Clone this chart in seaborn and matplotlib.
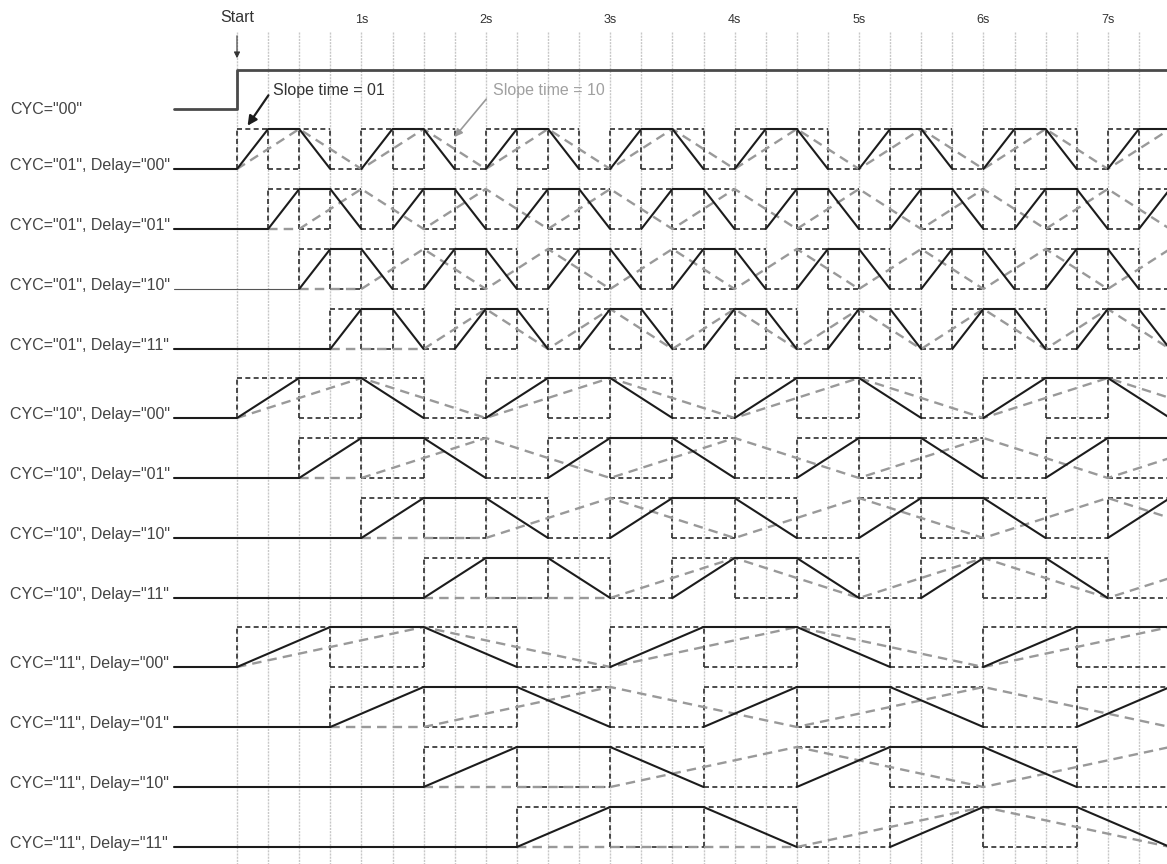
import numpy as np
import pandas as pd
import matplotlib.pyplot as plt
import seaborn as sns

# chart values
time_labels = ["Start", "1s", "2s", "3s", "4s", "5s", "6s", "7s"]
time_secs = [0, 1, 2, 3, 4, 5, 6, 7]
cyc_codes = ["01", "10", "11"]
delay_codes = ["00", "01", "10", "11"]
slope_codes = ["01", "10"]          # solid = "01", grey dashed = "10"
t_end = 7.6

sns.set_style("white")
plt.rcParams["font.family"] = ["Liberation Sans", "DejaVu Sans"]

fig = plt.figure(figsize=(11.67, 8.64), dpi=100)
ax = fig.add_axes([0, 0, 1, 1])

px = 124.4  # pixels per second
x0 = 237


def sx(p):
    return (p - x0) / px


amp = 40
t_left = sx(174)


def row_base(g, r):
    return 169 + 60 * (4 * g + r) + 9 * g


solid, dash_k, dash_g, thin = [], [], [], []


def add(lst, uid, pts):
    for t, y in pts:
        lst.append({"t": t, "y": y, "seg": uid})


for g, cyc in enumerate(cyc_codes):
    u = 0.25 * int(cyc, 2)
    for r, dl in enumerate(delay_codes):
        lo = row_base(g, r)
        hi = lo - amp
        d = int(dl, 2)
        t0 = d * u
        name = f"{cyc}{dl}"
        thin_row = (cyc, dl) == ("01", "10")
        # solid, slope time 01
        k = 0
        p = t0
        while p < t_end:
            pts = [(p, lo), (p + u, hi), (p + 2 * u, hi), (p + 3 * u, lo)]
            if k == 0:
                if thin_row:
                    add(thin, f"{name}lead", [(t_left, lo), (t0, lo)])
                else:
                    pts = [(t_left, lo)] + pts
            add(solid, f"{name}s{k}", pts)
            # dashed black boxes
            for i in range(4):
                add(dash_k, f"{name}v{k}{i}", [(p + i * u, lo), (p + i * u, hi)])
            add(dash_k, f"{name}t{k}", [(p, hi), (p + 3 * u, hi)])
            add(dash_k, f"{name}b{k}a", [(p + u, lo), (p + 2 * u, lo)])
            add(dash_k, f"{name}b{k}b", [(p + 3 * u, lo), (p + 4 * u, lo)])
            p += 4 * u
            k += 1
        # grey dashed, slope time 10
        s = int(slope_codes[1], 2)
        tg = d * s * u
        pts = [(t0, lo), (tg, lo)]
        j = 1
        while tg + 2 * u * (j - 1) < t_end:
            pts.append((tg + 2 * u * j, hi if j % 2 else lo))
            j += 1
        add(dash_g, f"{name}g", pts)

        label = f'CYC="{cyc}", Delay="{dl}"'
        ax.text(sx(10), lo + 1, label, fontsize=11.5, color="#444", va="baseline", ha="left")

# grid
grid_t = np.arange(0, 7.3, 0.25)
ax.vlines(grid_t, 32, 864, color="#c8c8c8", lw=1.0, linestyle=(0, (1.5, 0.8)), zorder=0)

# CYC="00" row
cyc0 = pd.DataFrame({"t": [t_left, 0, 0, t_end], "y": [109, 109, 70, 70]})
sns.lineplot(data=cyc0, x="t", y="y", sort=False, estimator=None, color="#4a4a4a",
             lw=2.0, legend=False, ax=ax)
ax.text(sx(10), 109, 'CYC="00"', fontsize=11.5, color="#444", va="center", ha="left")

sns.lineplot(data=pd.DataFrame(dash_k), x="t", y="y", units="seg", estimator=None, sort=False,
             color="#2e2e2e", lw=1.2, linestyle=(0, (3, 2)), legend=False, ax=ax)
sns.lineplot(data=pd.DataFrame(dash_g), x="t", y="y", units="seg", estimator=None, sort=False,
             color="#999999", lw=1.7, linestyle=(0, (4, 2.6)), legend=False, ax=ax)
sns.lineplot(data=pd.DataFrame(solid), x="t", y="y", units="seg", estimator=None,
             sort=False, color="#1c1c1c", lw=1.5, legend=False, ax=ax)
sns.lineplot(data=pd.DataFrame(thin), x="t", y="y", units="seg", estimator=None,
             sort=False, color="#555555", lw=0.8, legend=False, ax=ax)

# time labels
for lab, ts in zip(time_labels, time_secs):
    if lab == "Start":
        ax.text(ts, 18, lab, fontsize=11.5, color="#333", ha="center", va="center")
    else:
        ax.text(ts, 20, lab, fontsize=9, color="#333", ha="center", va="center")

ax.annotate("", xy=(0, 61), xytext=(0, 33),
            arrowprops=dict(arrowstyle="-|>", color="#333", lw=0.8, mutation_scale=9))

# slope annotations
ax.text(sx(273), 91, "Slope time = 01", fontsize=11.5, color="#333", ha="left", va="center")
ax.annotate("", xy=(sx(246), 128), xytext=(sx(270), 93),
            arrowprops=dict(arrowstyle="-|>", color="#1c1c1c", lw=1.6, mutation_scale=14))
ax.text(sx(493), 91, "Slope time = 10", fontsize=11.5, color="#a0a0a0", ha="left", va="center")
ax.annotate("", xy=(sx(453), 139), xytext=(sx(488), 97),
            arrowprops=dict(arrowstyle="-|>", color="#999999", lw=1.2, mutation_scale=11))

ax.set_xlim(sx(0), sx(1167))
ax.set_ylim(864, 0)
ax.axis("off")

fig.savefig("out.png", dpi=100)
